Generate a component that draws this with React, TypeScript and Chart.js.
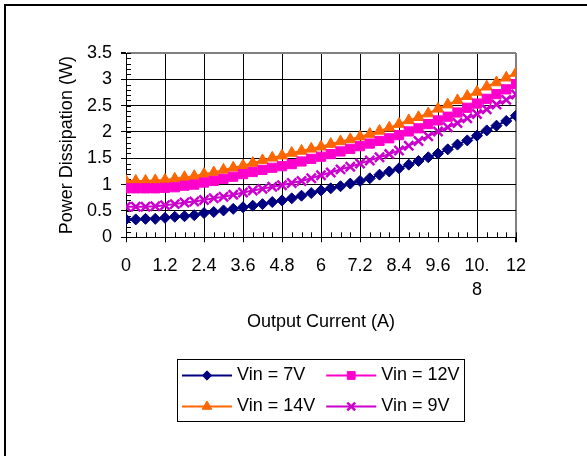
import React, { useEffect, useRef } from "react";
import { Chart, registerables } from "chart.js";
import { drawPoint } from "chart.js/helpers";

Chart.register(...registerables);

// ---------- data ----------
const currents = [
  0, 0.3, 0.6, 0.9, 1.2, 1.5, 1.8, 2.1, 2.4, 2.7, 3, 3.3, 3.6, 3.9, 4.2, 4.5,
  4.8, 5.1, 5.4, 5.7, 6, 6.3, 6.6, 6.9, 7.2, 7.5, 7.8, 8.1, 8.4, 8.7, 9, 9.3,
  9.6, 9.9, 10.2, 10.5, 10.8, 11.1, 11.4, 11.7, 12,
];

const vin7 = [
  0.34, 0.34, 0.35, 0.35, 0.37, 0.39, 0.4, 0.42, 0.46, 0.48, 0.51, 0.54, 0.57,
  0.6, 0.63, 0.67, 0.7, 0.74, 0.79, 0.84, 0.89, 0.93, 0.97, 1.02, 1.07, 1.12,
  1.19, 1.25, 1.31, 1.38, 1.45, 1.52, 1.59, 1.67, 1.76, 1.84, 1.93, 2.03, 2.12,
  2.21, 2.31,
];

const vin12 = [
  0.93, 0.93, 0.93, 0.93, 0.94, 0.95, 0.98, 1.0, 1.04, 1.07, 1.11, 1.15, 1.2,
  1.24, 1.28, 1.32, 1.35, 1.39, 1.44, 1.49, 1.53, 1.58, 1.63, 1.68, 1.73, 1.78,
  1.83, 1.88, 1.94, 2.01, 2.07, 2.15, 2.22, 2.29, 2.37, 2.46, 2.54, 2.63, 2.72,
  2.81, 2.91,
];

const vin14 = [
  1.07, 1.07, 1.07, 1.08, 1.09, 1.11, 1.14, 1.16, 1.2, 1.23, 1.28, 1.32, 1.36,
  1.41, 1.46, 1.51, 1.55, 1.6, 1.64, 1.68, 1.72, 1.77, 1.82, 1.86, 1.91, 1.96,
  2.02, 2.08, 2.15, 2.22, 2.28, 2.35, 2.44, 2.52, 2.6, 2.68, 2.76, 2.86, 2.94,
  3.03, 3.12,
];

const vin9 = [
  0.58, 0.58, 0.58, 0.59, 0.61, 0.63, 0.66, 0.68, 0.71, 0.74, 0.77, 0.81, 0.85,
  0.89, 0.92, 0.96, 0.99, 1.03, 1.07, 1.12, 1.18, 1.23, 1.29, 1.34, 1.4, 1.46,
  1.52, 1.58, 1.65, 1.74, 1.83, 1.92, 2.01, 2.09, 2.17, 2.26, 2.34, 2.43, 2.52,
  2.61, 2.71,
];

const seriesLabels = ["Vin = 7V", "Vin = 12V", "Vin = 14V", "Vin = 9V"];
const xTitle = "Output Current (A)";
const yTitle = "Power Dissipation (W)";
const xMin = 0;
const xMax = 12;
const xStep = 1.2;
const yMin = 0;
const yMax = 3.5;
const yStep = 0.5;
const yMinorStep = 0.1;

// ---------- styles ----------
const FONT = "Arial, 'Liberation Sans', sans-serif";

function wrapLabel(s: string, max = 3): string | string[] {
  if (s.length <= max) return s;
  const parts: string[] = [];
  for (let i = 0; i < s.length; i += max) parts.push(s.slice(i, i + max));
  return parts;
}

const framePlugin = {
  id: "frame",
  beforeDraw(chart: any) {
    const { ctx, width, height } = chart;
    ctx.save();
    ctx.fillStyle = "#ffffff";
    ctx.fillRect(0, 0, width, height);
    ctx.fillStyle = "#000000";
    ctx.fillRect(4, 4, width, 2);
    ctx.fillRect(4, 4, 2, height);
    ctx.restore();
  },
};

const minorTicksPlugin = {
  id: "minorTicks",
  beforeDatasetsDraw(chart: any) {
    const { ctx, chartArea, scales } = chart;
    const xs = scales.x;
    const ys = scales.y;
    ctx.save();
    ctx.strokeStyle = "#000";
    ctx.lineWidth = 1;
    ctx.beginPath();
    for (const v of currents) {
      const px = Math.round(xs.getPixelForValue(v)) + 0.5;
      ctx.moveTo(px, chartArea.bottom);
      ctx.lineTo(px, chartArea.bottom - 5);
    }
    const n = Math.round((yMax - yMin) / yMinorStep);
    for (let k = 0; k <= n; k++) {
      const py = Math.round(ys.getPixelForValue(yMin + k * yMinorStep)) + 0.5;
      ctx.moveTo(chartArea.left, py);
      ctx.lineTo(chartArea.left + 5, py);
    }
    ctx.stroke();
    ctx.restore();
  },
};

const boxLegendPlugin = {
  id: "boxLegend",
  afterDraw(chart: any) {
    const { ctx } = chart;
    const ds = chart.data.datasets;
    const cx = (chart.chartArea.left + chart.chartArea.right) / 2;
    const top = Math.round(chart.scales.x.bottom + 22);
    const lineLen = 50;
    const gap = 5;
    const colGap = 11;
    const padX = 5;
    const rowH = 31;
    const cols = 2;
    const rows = Math.ceil(ds.length / cols);
    ctx.save();
    ctx.font = `18px ${FONT}`;
    const colW: number[] = [];
    for (let c = 0; c < cols; c++) {
      let m = 0;
      for (let i = c; i < ds.length; i += cols) {
        m = Math.max(m, ctx.measureText(ds[i].label).width);
      }
      colW.push(lineLen + gap + m);
    }
    const totalW = padX * 2 + colW.reduce((a, b) => a + b, 0) + colGap * (cols - 1);
    const left = Math.round(cx - totalW / 2);
    ctx.strokeStyle = "#000";
    ctx.lineWidth = 1;
    ctx.strokeRect(left + 0.5, top + 0.5, Math.round(totalW), rows * rowH);
    ds.forEach((d: any, i: number) => {
      const c = i % cols;
      const r = Math.floor(i / cols);
      let x0 = left + padX;
      for (let k = 0; k < c; k++) x0 += colW[k] + colGap;
      const y = top + rowH * (r + 0.5) + 1;
      ctx.strokeStyle = d.borderColor;
      ctx.lineWidth = d.borderWidth;
      ctx.beginPath();
      ctx.moveTo(x0, y);
      ctx.lineTo(x0 + lineLen, y);
      ctx.stroke();
      ctx.fillStyle = d.pointBackgroundColor;
      ctx.strokeStyle = d.pointBorderColor;
      ctx.lineWidth = d.pointBorderWidth;
      drawPoint(
        ctx,
        {
          pointStyle: d.pointStyle,
          radius: d.pointRadius * 0.85,
          rotation: 0,
          borderWidth: d.pointBorderWidth,
        } as any,
        x0 + lineLen / 2,
        y
      );
      ctx.fillStyle = "#000";
      ctx.textAlign = "left";
      ctx.textBaseline = "middle";
      ctx.fillText(d.label, x0 + lineLen + gap, y);
    });
    ctx.restore();
  },
};

function makeDataset(label: string, values: number[], color: string, style: string, radius: number, pbw: number) {
  return {
    label,
    data: currents.map((x, i) => ({ x, y: values[i] })),
    borderColor: color,
    backgroundColor: color,
    pointBackgroundColor: color,
    pointBorderColor: color,
    borderWidth: 2,
    pointStyle: style,
    pointRadius: radius,
    pointBorderWidth: pbw,
    tension: 0,
  };
}

export default function App() {
  const ref = useRef<HTMLCanvasElement | null>(null);
  useEffect(() => {
    if (!ref.current) return;
    const chart = new Chart(ref.current, {
      type: "line",
      data: {
        datasets: [
          makeDataset(seriesLabels[0], vin7, "#000080", "rectRot", 5.5, 1),
          makeDataset(seriesLabels[1], vin12, "#FF00CC", "rect", 6.5, 1),
          makeDataset(seriesLabels[2], vin14, "#FF6600", "triangle", 6.5, 1),
          makeDataset(seriesLabels[3], vin9, "#CC00CC", "crossRot", 6.5, 2.5),
        ] as any,
      },
      options: {
        animation: false,
        responsive: false,
        layout: { padding: { left: 0, top: 53, right: 71, bottom: 118.7 } },
        plugins: {
          legend: { display: false },
          tooltip: { enabled: false },
        },
        scales: {
          x: {
            type: "linear",
            min: xMin,
            max: xMax,
            ticks: {
              stepSize: xStep,
              autoSkip: false,
              maxRotation: 0,
              color: "#000",
              padding: 12,
              font: { family: FONT, size: 18, lineHeight: 1.33 },
              callback: (v: any) => wrapLabel(String(Math.round(Number(v) * 10) / 10)),
            },
            grid: {
              color: (c: any) => (c.tick && Math.abs(c.tick.value - xMax) < 1e-6 ? "#808080" : "#000"),
              lineWidth: (c: any) => (c.tick && Math.abs(c.tick.value - xMax) < 1e-6 ? 2 : 1),
              tickColor: "#000",
              tickLength: 5,
            },
            border: { color: "#000", width: 1 },
            title: {
              display: true,
              text: xTitle,
              color: "#000",
              font: { family: FONT, size: 18 },
              padding: { top: 0, bottom: 4 },
            },
            afterFit: (s: any) => {
              s.height = 100;
            },
          },
          y: {
            type: "linear",
            min: yMin,
            max: yMax,
            ticks: {
              stepSize: yStep,
              color: "#000",
              padding: 9,
              font: { family: FONT, size: 18 },
              callback: (v: any) => String(Math.round(Number(v) * 10) / 10),
            },
            grid: {
              color: (c: any) => (c.tick && Math.abs(c.tick.value - yMax) < 1e-6 ? "#808080" : "#000"),
              lineWidth: (c: any) => (c.tick && Math.abs(c.tick.value - yMax) < 1e-6 ? 2 : 1),
              tickColor: "#000",
              tickLength: 5,
            },
            border: { color: "#000", width: 1 },
            title: {
              display: true,
              text: yTitle,
              color: "#000",
              font: { family: FONT, size: 18 },
              padding: { top: 56, bottom: 0 },
            },
            afterFit: (s: any) => {
              s.width = 126;
            },
          },
        },
      } as any,
      plugins: [framePlugin, minorTicksPlugin, boxLegendPlugin],
    });
    return () => chart.destroy();
  }, []);

  return (
    <div style={{ position: "fixed", left: 0, top: 0, width: 587, height: 456, background: "#fff" }}>
      <canvas ref={ref} width={587} height={456} style={{ display: "block", width: 587, height: 456 }} />
    </div>
  );
}
